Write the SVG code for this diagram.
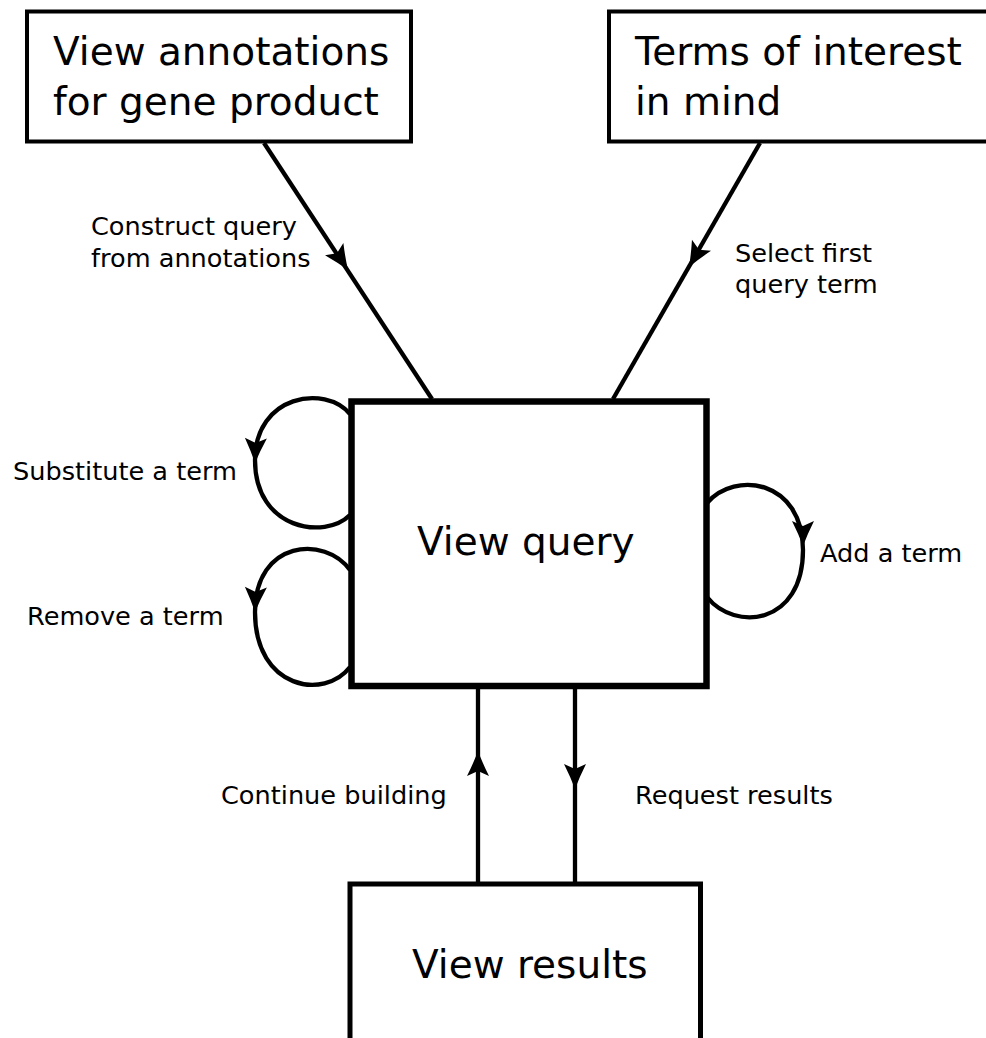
<svg xmlns="http://www.w3.org/2000/svg" xmlns:xlink="http://www.w3.org/1999/xlink" width="986" height="1038" viewBox="0 0 986 1038">
<style>
.box{fill:#fff;stroke:#000;stroke-width:4}
.main{fill:#fff;stroke:#000;stroke-width:6.5}
.title{font-family:"DejaVu Sans",sans-serif;font-size:39px;fill:#000}
.lbl{font-family:"DejaVu Sans",sans-serif;font-size:25.6px;fill:#000}
.edge{fill:none;stroke:#000;stroke-width:4.3}
</style>
<defs>
<path id="ah" d="M0,0 Q-12,-4.5 -25,-11 L-20,0 L-25,11 Q-12,4.5 0,0 Z" fill="#000"/>
</defs>
<rect width="986" height="1038" fill="#fff"/>
<g id="connectors">
<path class="edge" d="M264,143 L432,399"/>
<use xlink:href="#ah" transform="translate(348,270) rotate(56.5)"/>
<text class="lbl" x="91" y="235">Construct query</text>
<text class="lbl" x="91" y="267">from annotations</text>
<path class="edge" d="M760,143 L613,399"/>
<use xlink:href="#ah" transform="translate(689,267) rotate(120)"/>
<text class="lbl" x="735" y="262">Select first</text>
<text class="lbl" x="735" y="293">query term</text>
<path class="edge" d="M350,414 C325,384 255,395 255,460 C255,530 325,540 350,515"/>
<use xlink:href="#ah" transform="translate(255,463) rotate(92)"/>
<text class="lbl" x="13" y="480">Substitute a term</text>
<path class="edge" d="M350,570 C325,535 255,540 255,612 C255,690 325,700 350,667"/>
<use xlink:href="#ah" transform="translate(255,612) rotate(92)"/>
<text class="lbl" x="27" y="625">Remove a term</text>
<path class="edge" d="M707,503 C735,470 803,480 803,550 C803,625 735,632 707,597"/>
<use xlink:href="#ah" transform="translate(803,546) rotate(90)"/>
<text class="lbl" x="820" y="562">Add a term</text>
<path class="edge" d="M478,882 L478,689"/>
<use xlink:href="#ah" transform="translate(478,751) rotate(-90)"/>
<text class="lbl" x="221" y="804">Continue building</text>
<path class="edge" d="M575,689 L575,882"/>
<use xlink:href="#ah" transform="translate(575,789) rotate(90)"/>
<text class="lbl" x="635" y="804">Request results</text>
</g>
<g id="node-annotations">
<rect class="box" x="27" y="11.5" width="384" height="130"/>
<text class="title" x="53" y="65">View annotations</text>
<text class="title" x="53" y="115">for gene product</text>
</g>
<g id="node-terms">
<rect class="box" x="609" y="11.5" width="400" height="130"/>
<text class="title" x="635" y="65">Terms of interest</text>
<text class="title" x="635" y="115">in mind</text>
</g>
<g id="node-query">
<rect class="main" x="351.5" y="401.5" width="355" height="284.5"/>
<text class="title" x="417" y="555">View query</text>
</g>
<g id="node-results">
<rect class="box" x="350" y="884" width="350.5" height="200" style="stroke-width:5"/>
<text class="title" x="412" y="978">View results</text>
</g>
</svg>
